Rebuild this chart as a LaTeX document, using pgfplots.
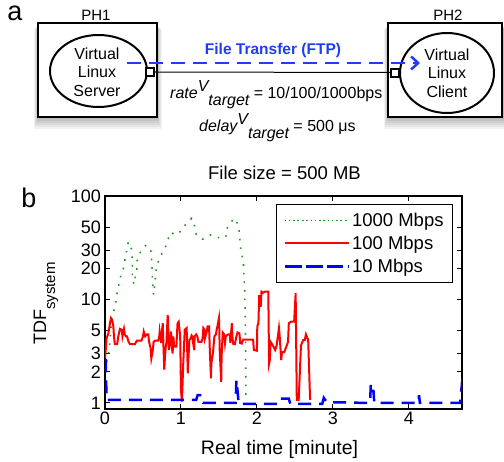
\documentclass[border=0pt]{standalone}
\usepackage{pgfplots}
\pgfplotsset{compat=1.18}
\usepackage{fontspec}
\setmainfont{Liberation Sans}
\usetikzlibrary{arrows.meta}
\definecolor{ggreen}{RGB}{30,150,30}
\definecolor{ftpblue}{RGB}{30,60,250}

\pgfplotstableread{
t v
0.02 2.5
0.04 2.72
0.05 3.25
0.066 3.9
0.09 6.9
0.13 8.3
0.145 9.9
0.16 11.8
0.21 17.3
0.25 20.6
0.265 25
0.29 30.7
0.307 36
0.35 30.6
0.36 25
0.36 20.8
0.36 16.9
0.38 14.0
0.425 20.6
0.425 24.5
0.47 29
0.54 33.6
0.61 29
0.615 23.7
0.62 19.6
0.625 16.2
0.63 13.3
0.64 11.1
0.66 15.2
0.67 18.6
0.69 22
0.73 26.4
0.79 31
0.825 37.5
0.87 44.6
0.92 42
1.01 46.3
1.07 54.5
1.14 60.8
1.18 51.4
1.2 42.7
1.285 38.3
1.39 42
1.49 39.6
1.59 39.6
1.6 47.6
1.65 55.6
1.71 60.8
1.76 51.4
1.77 42.7
1.78 34.9
1.79 29
1.82 24
1.83 17
1.84 12
1.845 8
1.85 4.5
1.852 2.5
1.855 1.12
}\gigabit

\pgfplotstableread{
t v
0 2.7
0.013 3.5
0.02 4.2
0.044 4.7
0.066 5.9
0.079 6.6
0.096 6.3
0.11 5.5
0.118 4.4
0.13 3.7
0.16 3.7
0.175 4.4
0.197 5.2
0.22 5.1
0.23 4.4
0.25 5.2
0.26 4.6
0.276 4.4
0.29 4.4
0.31 3.9
0.33 3.7
0.395 3.7
0.41 3.9
0.42 4.0
0.48 4.0
0.5 4.4
0.51 4.9
0.53 4.4
0.55 4.6
0.57 4.6
0.58 3.9
0.6 3.4
0.61 2.7
0.63 3.25
0.64 3.9
0.66 4.0
0.70 4.0
0.715 4.4
0.72 4.9
0.74 3.8
0.745 4.4
0.76 5.9
0.77 3.5
0.78 2.1
0.79 2.8
0.80 3.5
0.81 3.9
0.825 7.1
0.83 6.3
0.84 3.25
0.855 3.8
0.87 4.9
0.88 3.5
0.89 3.0
0.9 4.4
0.91 3.5
0.94 3.5
0.955 5.9
0.97 6.1
0.99 4.4
1.0 1.34
1.013 1.03
1.03 2.4
1.05 5.1
1.075 5.3
1.09 1.94
1.11 4.06
1.13 4.2
1.14 4.5
1.15 4.4
1.16 3.8
1.175 3.25
1.18 4.4
1.2 4.6
1.215 4.4
1.23 3.9
1.27 3.9
1.285 4.2
1.295 5.3
1.31 5.1
1.315 4.2
1.34 4.9
1.35 5.5
1.37 5.5
1.38 3.25
1.395 1.73
1.40 2.4
1.42 3.0
1.425 3.25
1.44 4.4
1.46 4.6
1.47 5.1
1.48 5.5
1.5 6.6
1.505 5.1
1.51 3.25
1.53 1.6
1.535 2.8
1.55 4.8
1.57 4.6
1.58 3.8
1.59 4.4
1.62 4.6
1.645 4.6
1.65 3.8
1.67 5.9
1.68 4.1
1.69 3.7
1.71 3.7
1.73 4.4
1.745 4.8
1.77 4.7
1.78 3.8
1.80 3.75
1.82 4.1
1.95 4.1
1.96 3.25
2.0 3.2
2.005 5.5
2.02 5.9
2.03 11.0
2.04 9.9
2.05 8.5
2.06 11.9
2.08 11.6
2.105 11.9
2.15 11.9
2.16 2.4
2.17 2.6
2.18 3.9
2.21 3.6
2.24 3.25
2.26 3.6
2.29 5.3
2.30 4.4
2.32 2.6
2.33 3.1
2.36 3.1
2.41 3.9
2.42 5.9
2.45 6.1
2.49 6.1
2.51 11.5
2.525 1.07
2.55 1.07
2.58 3.6
2.61 4.06
2.63 4.06
2.645 4.6
2.675 4.06
2.70 1.07
}\hundred

\pgfplotstableread{
t v
0 2.6
0.01 2.6
0.02 1.07
1.2 1.07
1.22 1.19
1.27 1.19
1.29 1.0
1.72 1.0
1.73 1.67
1.745 1.3
1.76 0.98
2.28 0.98
2.3 1.1
2.42 1.1
2.44 0.98
2.86 0.98
2.88 1.12
2.92 1.02
3.49 1.0
3.5 1.55
3.52 1.3
3.535 1.3
3.545 1.0
4.125 1.0
4.135 1.19
4.145 1.0
4.675 1.0
4.71 1.85
}\ten

\begin{document}
\begin{tikzpicture}
\useasboundingbox (0pt,0pt) rectangle (504pt,-462pt);
\begin{scope}[x=1pt,y=1pt]
  % shadows
  \foreach \k in {1,...,6} {
    \fill[black,opacity=0.05] (38-\k*0.7,-26-\k*0.5) rectangle (157+\k*0.8,-117-\k*2);
    \fill[black,opacity=0.05] (388-\k*0.7,-26-\k*0.5) rectangle (504,-117-\k*2);
  }
  \draw[line width=1.3pt,fill=white] (38,-23) rectangle (157,-117);
  \draw[line width=1.3pt,fill=white] (388,-23) rectangle (502,-117);
  \draw[line width=2pt] (98.5,-71) ellipse [x radius=48.5pt, y radius=36pt];
  \draw[line width=2pt] (447,-73) ellipse [x radius=47pt, y radius=40pt];
  \node[align=center,font=\fontsize{16}{18.5}\selectfont] at (97,-72) {Virtual\\Linux\\Server};
  \node[align=center,font=\fontsize{16}{18.5}\selectfont] at (447,-73) {Virtual\\Linux\\Client};
  \node[font=\fontsize{15}{15}\selectfont] at (96,-15) {PH1};
  \node[font=\fontsize{15}{15}\selectfont] at (448,-15) {PH2};
  \node[font=\fontsize{27}{27}\selectfont,anchor=base] at (15,-21) {a};
  \draw[line width=1pt] (154,-72) -- (391,-72.5);
  \draw[line width=1.2pt,fill=white] (146,-68) rectangle (154,-76);
  \draw[line width=1.2pt,fill=white] (391,-69) rectangle (399,-77);
  \draw[ftpblue,line width=2.5pt,dash pattern=on 14pt off 8pt,-{Straight Barb[length=7pt,width=13pt]}] (127,-63) -- (420,-63);
  \node[ftpblue,font=\bfseries\fontsize{15.5}{15.5}\selectfont] at (273,-50) {File Transfer (FTP)};
  \node[anchor=base west,font=\fontsize{16}{16}\selectfont,inner sep=0pt] at (170,-99) {\itshape rate\raisebox{7pt}{V}\raisebox{-7pt}{target}\upshape{} = 10/100/1000bps};
  \node[anchor=base west,font=\fontsize{16}{16}\selectfont,inner sep=0pt] at (199,-131.5) {\itshape delay\raisebox{6.5pt}{V}\raisebox{-7pt}{target}\upshape{} = 500 μs};
  % part b texts
  \node[font=\fontsize{27}{27}\selectfont,anchor=base] at (29,-208) {b};
  \node[font=\fontsize{18.5}{18.5}\selectfont,anchor=base] at (284.5,-180) {File size = 500 MB};
  \node[rotate=90,anchor=base west,inner sep=0pt,font=\fontsize{18}{18}\selectfont] at (46,-345) {TDF\raisebox{-9pt}{\fontsize{15}{15}\selectfont system}};
  \node[anchor=base,font=\fontsize{19.5}{19.5}\selectfont] at (279.5,-455) {Real time [minute]};
\end{scope}
\begin{axis}[
  at={(105pt,-409pt)}, anchor=south west,
  scale only axis, width=357pt, height=213pt,
  xmin=0, xmax=4.7, ymode=log, ymin=0.875, ymax=100,
  xtick={0,1,2,3,4},
  ytick={1,2,3,5,10,20,30,50,100},
  yticklabels={1,2,3,5,10,20,30,50,100},
  yminorticks=false,
  tick align=inside, major tick length=5pt,
  axis line style={line width=1.3pt},
  every tick/.style={black,line width=1pt},
  ticklabel style={font=\fontsize{18}{18}\selectfont},
  xticklabel style={inner sep=2pt,yshift=-1pt},
  yticklabel style={inner sep=4pt},
  /pgf/number format/assume math mode=true,
  legend image code/.code={\draw[#1] (0pt,0pt) -- (54pt,0pt); \path (-4pt,0pt) -- (60pt,0pt);},
  legend style={draw=black,line width=1pt,at={(0.975,0.962)},anchor=north east,
    font=\fontsize{18.5}{18.5}\selectfont,inner xsep=7pt,inner ysep=6pt,
    row sep=3pt,column sep=0pt,nodes={inner xsep=2pt,inner ysep=2.5pt}},
  legend cell align=left,
]
\addplot[ggreen,line width=1.6pt,dash pattern=on 1.6pt off 7pt] table[x=t,y=v] {\gigabit};
\addlegendentry{1000 Mbps}
\addplot[red,line width=2pt] table[x=t,y=v] {\hundred};
\addlegendentry{100 Mbps}
\addplot[blue,line width=2.5pt,dash pattern=on 13pt off 8pt] table[x=t,y=v] {\ten};
\addlegendentry{10 Mbps}
\end{axis}
\end{tikzpicture}
\end{document}
